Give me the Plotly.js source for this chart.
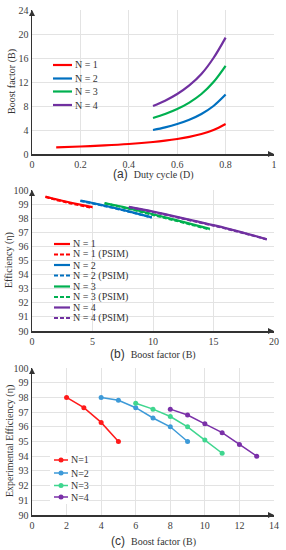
<!DOCTYPE html>
<html><head><meta charset="utf-8">
<script src="https://cdn.plot.ly/plotly-3.0.1.min.js"></script>
<style>html,body{margin:0;padding:0;background:#fff}#c{width:286px;height:550px}</style>
</head><body><div id="c"></div>
<script>
// Panel (a): boost factor vs duty cycle
const dutyN1 = [0.1,0.2,0.3,0.4,0.5,0.55,0.6,0.65,0.7,0.75,0.8];
const boostN1 = [1.11,1.25,1.43,1.67,2.0,2.22,2.5,2.86,3.33,4.0,5.0];
const dutyHi = [0.5,0.55,0.6,0.65,0.7,0.75,0.8];
const boostN2 = [4.0,4.44,5.0,5.71,6.67,8.0,9.9];
const boostN3 = [6.0,6.67,7.5,8.57,10.0,12.0,14.7];
const boostN4 = [8.0,8.89,10.0,11.43,13.33,16.0,19.4];

// Panel (b): efficiency vs boost factor (calc & PSIM)
const effB1 = [1.11,1.25,1.43,1.67,2.0,2.5,3.33,5.0];
const effN1 = [99.53,99.5,99.46,99.41,99.34,99.24,99.08,98.78];
const effN1p = [99.5,99.47,99.43,99.38,99.3,99.2,99.03,98.74];
const effB2 = [4.0,4.44,5.0,5.71,6.67,8.0,9.9];
const effN2 = [99.25,99.18,99.08,98.95,98.76,98.48,98.06];
const effN2p = [99.22,99.15,99.05,98.92,98.74,98.46,98.05];
const effB3 = [6.0,6.67,7.5,8.57,10.0,12.0,14.7];
const effN3 = [99.07,98.95,98.8,98.58,98.28,97.85,97.24];
const effN3p = [99.05,98.93,98.77,98.55,98.24,97.8,97.2];
const effB4 = [8.0,8.89,10.0,11.43,13.33,16.0,19.4];
const effN4 = [98.81,98.66,98.47,98.2,97.83,97.3,96.51];
const effN4p = [98.78,98.63,98.44,98.17,97.8,97.27,96.5];

// Panel (c): experimental efficiency
const expB1 = [2,3,4,5];
const expE1 = [98.0,97.3,96.3,95.0];
const expB2 = [4,5,6,7,8,9];
const expE2 = [98.0,97.8,97.3,96.6,96.0,95.0];
const expB3 = [6,7,8,9,10,11];
const expE3 = [97.6,97.2,96.7,96.0,95.1,94.2];
const expB4 = [8,9,10,11,12,13];
const expE4 = [97.2,96.8,96.2,95.6,94.8,94.0];

const legA = ['N = 1','N = 2','N = 3','N = 4'];
const legB = ['N = 1','N = 1 (PSIM)','N = 2','N = 2 (PSIM)','N = 3','N = 3 (PSIM)','N = 4','N = 4 (PSIM)'];
const legC = ['N=1','N=2','N=3','N=4'];

const RED='#ff0000', BLUE='#0070c0', GREEN='#00b050', PURPLE='#7030a0';
const cRED='#ff1a1a', cBLUE='#3d9ad8', cGREEN='#3fd68f', cPURPLE='#7a30a8';
const serif='Liberation Serif';
const DASH='4px,2px';

function ln(x,y,name,color,xa,ya,dash){
  return {x:x,y:y,name:name,type:'scatter',mode:'lines',xaxis:xa,yaxis:ya,
    line:{color:color,width:2.2,shape:'spline',dash:dash||'solid'}};
}
function mk(x,y,name,color){
  return {x:x,y:y,name:name,type:'scatter',mode:'lines+markers',xaxis:'x3',yaxis:'y3',
    line:{color:color,width:1.5},marker:{color:color,size:5}};
}
const traces=[
  ln(dutyN1,boostN1,legA[0],RED,'x','y'),
  ln(dutyHi,boostN2,legA[1],BLUE,'x','y'),
  ln(dutyHi,boostN3,legA[2],GREEN,'x','y'),
  ln(dutyHi,boostN4,legA[3],PURPLE,'x','y'),
  ln(effB1,effN1,legB[0],RED,'x2','y2'),
  ln(effB1,effN1p,legB[1],RED,'x2','y2',DASH),
  ln(effB2,effN2,legB[2],BLUE,'x2','y2'),
  ln(effB2,effN2p,legB[3],BLUE,'x2','y2',DASH),
  ln(effB3,effN3,legB[4],GREEN,'x2','y2'),
  ln(effB3,effN3p,legB[5],GREEN,'x2','y2',DASH),
  ln(effB4,effN4,legB[6],PURPLE,'x2','y2'),
  ln(effB4,effN4p,legB[7],PURPLE,'x2','y2',DASH),
  mk(expB1,expE1,legC[0],cRED),
  mk(expB2,expE2,legC[1],cBLUE),
  mk(expB3,expE3,legC[2],cGREEN),
  mk(expB4,expE4,legC[3],cPURPLE)
];

const W=286,H=550;
const xd=[32/W,274/W];
function yd(top,bot){return [1-bot/H,1-top/H];}
const tickf={family:serif,size:10,color:'#404040'};
function xax(anchor,range,dtick){
  return {domain:xd,anchor:anchor,range:range,dtick:dtick,tick0:0,showgrid:true,gridcolor:'#e3e3e3',gridwidth:1,
    showline:true,linecolor:'#333',linewidth:1.5,zeroline:false,ticks:'',tickfont:tickf,fixedrange:true};
}
function yax(anchor,dom,range,dtick){
  return {domain:dom,anchor:anchor,range:range,dtick:dtick,showgrid:true,gridcolor:'#e3e3e3',gridwidth:1,
    showline:true,linecolor:'#333',linewidth:1.5,zeroline:false,ticks:'',tickfont:tickf,fixedrange:true};
}
function arrowX(xa,ya,x,y){return {xref:xa,yref:ya,x:x,y:y,ax:-6,ay:0,showarrow:true,arrowhead:2,arrowsize:0.8,arrowwidth:1.5,arrowcolor:'#333',text:''};}
function arrowY(xa,ya,x,y){return {xref:xa,yref:ya,x:x,y:y,ax:0,ay:6,showarrow:true,arrowhead:2,arrowsize:0.8,arrowwidth:1.5,arrowcolor:'#333',text:''};}
function cap(letter,text,y){
  return {xref:'paper',yref:'paper',x:153/W,y:1-y/H,xanchor:'center',yanchor:'middle',showarrow:false,
    text:'<span style="font-family:Liberation Sans;font-size:12px">'+letter+'</span>  <span style="font-family:Liberation Serif;font-size:10px">'+text+'</span>',
    font:{color:'#333',family:serif}};
}
function ytitle(text,x,yc){
  return {xref:'paper',yref:'paper',x:x/W,y:1-yc/H,xanchor:'center',yanchor:'middle',textangle:-90,showarrow:false,
    text:text,font:{family:serif,size:10,color:'#333'}};
}
const shapes=[], anns=[];
function legend(names,colors,dashes,ys,x0,x1,markers){
  names.forEach((n,i)=>{
    const yp=1-ys[i]/H;
    shapes.push({type:'line',xref:'paper',yref:'paper',x0:x0/W,x1:x1/W,y0:yp,y1:yp,layer:'above',
      line:{color:colors[i],width:markers?1.5:2.2,dash:dashes?dashes[i]:'solid'}});
    if(markers){
      const xm=(x0+x1)/2, r=2.5;
      shapes.push({type:'circle',xref:'paper',yref:'paper',x0:(xm-r)/W,x1:(xm+r)/W,y0:yp-r/H,y1:yp+r/H,layer:'above',
        fillcolor:colors[i],line:{color:colors[i],width:0}});
    }
    anns.push({xref:'paper',yref:'paper',x:(x1+0.5)/W,y:yp,xanchor:'left',yanchor:'middle',showarrow:false,
      text:n,font:{family:serif,size:10,color:'#333'}});
  });
}
// white box behind legend (c)
shapes.push({type:'rect',xref:'paper',yref:'paper',x0:50/W,x1:88/W,y0:1-504/H,y1:1-453/H,layer:'above',fillcolor:'#fff',line:{width:0}});
legend(legA,[RED,BLUE,GREEN,PURPLE],null,[65,78.5,91.5,105],53,72,false);
legend(legB,[RED,RED,BLUE,BLUE,GREEN,GREEN,PURPLE,PURPLE],['solid',DASH,'solid',DASH,'solid',DASH,'solid',DASH],
  [244,254.5,265,275.5,286.5,297,307.5,318],54,70,false);
legend(legC,[cRED,cBLUE,cGREEN,cPURPLE],null,[460,473,485.5,497],54,68,true);

const layout={
  width:W,height:H,margin:{l:0,r:0,t:0,b:0},paper_bgcolor:'#fff',plot_bgcolor:'#fff',
  showlegend:false,
  xaxis:xax('y',[0,1],0.2),
  yaxis:yax('x',yd(10,154),[0,24],4),
  xaxis2:xax('y2',[0,20],5),
  yaxis2:yax('x2',yd(190,331),[90,100],1),
  xaxis3:xax('y3',[0,14],2),
  yaxis3:yax('x3',yd(368,515),[90,100],1),
  shapes:shapes,
  annotations:[
    arrowX('x','y',1,0),arrowY('x','y',0,24),
    arrowX('x2','y2',20,90),arrowY('x2','y2',0,100),
    arrowX('x3','y3',14,90),arrowY('x3','y3',0,100),
    cap('(a)','Duty cycle (D)',174),
    cap('(b)','Boost factor (B)',354),
    cap('(c)','Boost factor (B)',541),
    ytitle('Boost factor (B)',12,82),
    ytitle('Efficiency (η)',9,260),
    ytitle('Experimental Efficiency (η)',10,441)
  ].concat(anns)
};
Plotly.newPlot('c',traces,layout,{staticPlot:true,displayModeBar:false});
</script></body></html>
